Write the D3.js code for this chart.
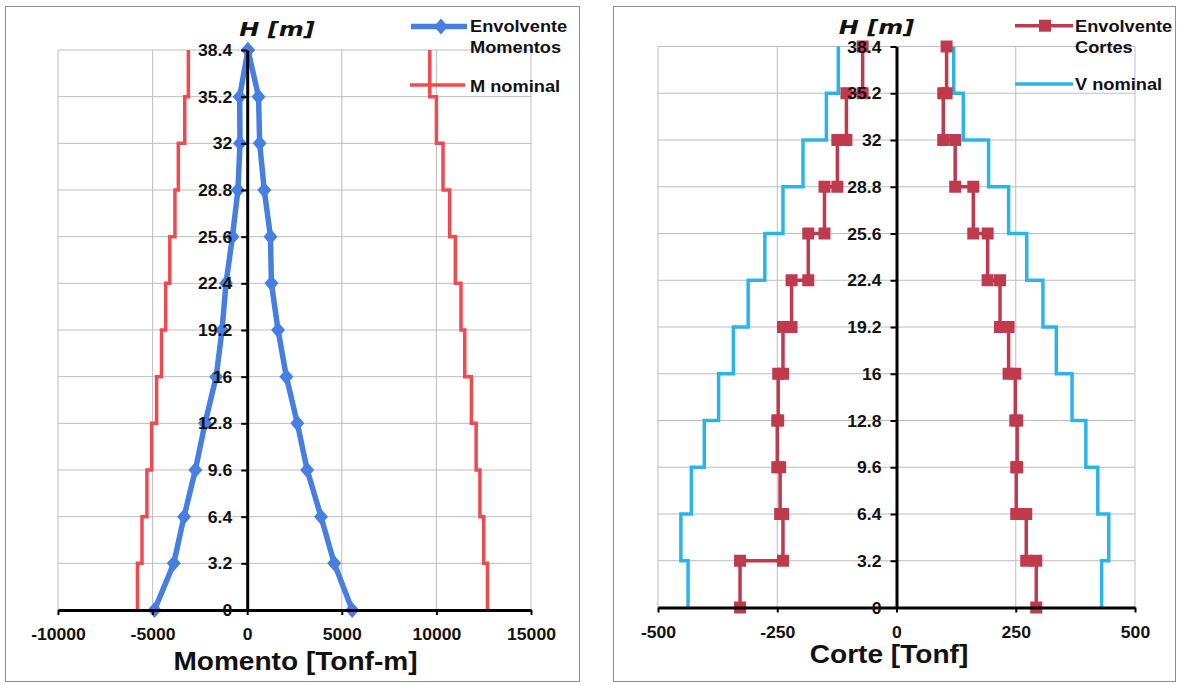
<!DOCTYPE html>
<html>
<head>
<meta charset="utf-8">
<script src="https://cdn.jsdelivr.net/npm/d3@7"></script>
<style>
  html, body { margin: 0; padding: 0; background: #fff; }
  svg { display: block; }
</style>
</head>
<body>
<svg id="chart" width="1179" height="685"></svg>
<script>
// Floor levels (m), ground to roof
const levels = [0, 3.2, 6.4, 9.6, 12.8, 16, 19.2, 22.4, 25.6, 28.8, 32, 35.2, 38.4];

// Moment envelope at each level (Tonf-m), ground to roof
const momentPos = [5550, 4600, 3900, 3170, 2650, 2070, 1630, 1280, 1230, 900, 660, 600, 40];
const momentNeg = [-4900, -3880, -3340, -2740, -2230, -1640, -1330, -1120, -780, -490, -380, -400, 40];

// Nominal moment capacity per storey (Tonf-m), lowest storey first
const mNominalPos = [12700, 12500, 12300, 12100, 11850, 11500, 11300, 11000, 10700, 10350, 10000, 9650];
const mNominalNeg = [-5800, -5560, -5300, -5050, -4790, -4530, -4310, -4090, -3820, -3640, -3300, -3110];

// Shear envelope per storey (Tonf), lowest storey first
const shearPos = [293, 272, 251, 253, 249, 235, 217, 191, 161, 123, 98, 105];
const shearNeg = [-328, -238, -244, -250, -248, -238, -220, -185, -151, -124, -105, -71];

// Nominal shear capacity per storey (Tonf), lowest storey first
const vNominalPos = [430, 445, 422, 397, 368, 335, 307, 273, 235, 193, 140, 120];
const vNominalNeg = [-437, -452, -430, -403, -373, -342, -311, -276, -238, -196, -147, -122];

// Axis ticks
const momentTicks = [-10000, -5000, 0, 5000, 10000, 15000];
const shearTicks = [-500, -250, 0, 250, 500];

const FONT = "'Liberation Sans', Arial, sans-serif";
const svg = d3.select("#chart");

const C_BLUE = "#477fe0";
const C_RED = "#ef4a4f";
const C_CYAN = "#2cb4e8";
const C_DARKRED = "#bf3a4c";
const C_GRID = "#bdbdbd";

// Bold text, slightly widened horizontally
function label(g, x, y, str, size, opts = {}) {
  return g.append("text")
    .attr("transform", `translate(${x},${y}) scale(${opts.sx || 1.12},1)`)
    .attr("text-anchor", opts.anchor || "start")
    .attr("font-family", opts.family || FONT)
    .attr("font-weight", "bold")
    .attr("font-style", opts.italic ? "oblique" : "normal")
    .attr("font-size", size)
    .attr("fill", "#111")
    .text(str);
}

// Storey values -> stepped polyline points (value, height)
function stepPoints(values) {
  const pts = [];
  values.forEach((v, i) => {
    pts.push([v, levels[i]]);
    pts.push([v, levels[i + 1]]);
  });
  return pts;
}

const diamond = "M0,-8L7,0L0,8L-7,0Z";
const square = d3.symbol().type(d3.symbolSquare).size(144)();

// Panel frames
svg.append("rect").attr("x", 5.5).attr("y", 6.5).attr("width", 574).attr("height", 675)
  .attr("fill", "#fff").attr("stroke", "#8c8c8c");
svg.append("rect").attr("x", 613.5).attr("y", 6.5).attr("width", 562).attr("height", 675)
  .attr("fill", "#fff").attr("stroke", "#8c8c8c");

function drawGrid(g, x, y, ticks) {
  g.append("g").selectAll("line").data(levels).join("line")
    .attr("x1", x.range()[0]).attr("x2", x.range()[1])
    .attr("y1", d => y(d)).attr("y2", d => y(d))
    .attr("stroke", C_GRID).attr("stroke-width", 1);
  g.append("g").selectAll("line").data(ticks.filter(t => t !== 0)).join("line")
    .attr("x1", d => x(d)).attr("x2", d => x(d))
    .attr("y1", y(0)).attr("y2", y(levels[levels.length - 1]))
    .attr("stroke", C_GRID).attr("stroke-width", 1);
}

function drawAxes(g, x, y, ticks) {
  const xa = g.append("g").attr("transform", `translate(0,${y(0)})`)
    .call(d3.axisBottom(x).tickValues(ticks).tickSize(5).tickSizeOuter(0).tickFormat(d => String(d)));
  const ya = g.append("g").attr("transform", `translate(${x(0)},0)`)
    .call(d3.axisLeft(y).tickValues(levels).tickSize(6).tickSizeOuter(0).tickFormat(d => String(d)));
  [xa, ya].forEach(a => {
    a.attr("font-family", FONT).attr("font-size", 16).attr("font-weight", "bold");
    a.select(".domain").attr("stroke", "#000").attr("stroke-width", 3);
    a.selectAll(".tick line").attr("stroke", "#000").attr("stroke-width", 2);
    a.selectAll(".tick text").attr("fill", "#111");
  });
  xa.selectAll(".tick text").attr("y", 0).attr("dy", null)
    .attr("transform", "translate(0,30) scale(1.1,1)");
  ya.selectAll(".tick text").attr("x", 0).attr("dy", "0.35em")
    .attr("transform", "translate(-15,0) scale(1.1,1)");
}

const line = (x, y) => d3.line().x(d => x(d[0])).y(d => y(d[1]));

// ---------- Moment chart ----------
{
  const g = svg.append("g");
  const x = d3.scaleLinear().domain([-10000, 15000]).range([58, 531]);
  const y = d3.scaleLinear().domain([0, 38.4]).range([610, 50]);
  drawGrid(g, x, y, momentTicks);

  // Nominal moment, both signs
  [mNominalNeg, mNominalPos].forEach(vals => {
    g.append("path").datum(stepPoints(vals)).attr("d", line(x, y))
      .attr("fill", "none").attr("stroke", C_RED).attr("stroke-width", 3.5);
  });

  // Moment envelope: up the negative side, down the positive side
  const env = levels.map((h, i) => [momentNeg[i], h])
    .concat(levels.map((h, i) => [momentPos[i], h]).reverse());
  g.append("path").datum(env).attr("d", line(x, y))
    .attr("fill", "none").attr("stroke", C_BLUE).attr("stroke-width", 5.5)
    .attr("stroke-linejoin", "round");
  g.append("g").selectAll("path").data(env).join("path")
    .attr("d", diamond)
    .attr("transform", d => `translate(${x(d[0])},${y(d[1])})`)
    .attr("fill", C_BLUE);

  drawAxes(g, x, y, momentTicks);

  label(g, 277, 35.5, "H [m]", 20, { family: "'DejaVu Sans', sans-serif", italic: true, anchor: "middle", sx: 1.2 });
  label(g, 295.5, 670, "Momento [Tonf-m]", 26, { anchor: "middle", sx: 1.08 });

  // Legend
  g.append("line").attr("x1", 411).attr("x2", 467).attr("y1", 26.5).attr("y2", 26.5)
    .attr("stroke", C_BLUE).attr("stroke-width", 5.5);
  g.append("path").attr("d", diamond).attr("transform", "translate(441,26.5)").attr("fill", C_BLUE);
  label(g, 470, 32, "Envolvente", 16, { sx: 1.14 });
  label(g, 470, 53, "Momentos", 16, { sx: 1.14 });
  g.append("line").attr("x1", 410).attr("x2", 465).attr("y1", 85).attr("y2", 85)
    .attr("stroke", C_RED).attr("stroke-width", 3.5);
  label(g, 470, 92, "M nominal", 16, { sx: 1.14 });
}

// ---------- Shear chart ----------
{
  const g = svg.append("g");
  const x = d3.scaleLinear().domain([-500, 500]).range([658, 1135]);
  const y = d3.scaleLinear().domain([0, 38.4]).range([607.5, 46.5]);
  drawGrid(g, x, y, shearTicks);

  // Nominal shear, both signs
  [vNominalNeg, vNominalPos].forEach(vals => {
    g.append("path").datum(stepPoints(vals)).attr("d", line(x, y))
      .attr("fill", "none").attr("stroke", C_CYAN).attr("stroke-width", 3.5);
  });

  // Shear envelope, both signs
  [shearNeg, shearPos].forEach(vals => {
    const pts = stepPoints(vals);
    g.append("path").datum(pts).attr("d", line(x, y))
      .attr("fill", "none").attr("stroke", C_DARKRED).attr("stroke-width", 3.5);
    g.append("g").selectAll("path").data(pts).join("path")
      .attr("d", square)
      .attr("transform", d => `translate(${x(d[0])},${y(d[1])})`)
      .attr("fill", C_DARKRED);
  });

  drawAxes(g, x, y, shearTicks);

  label(g, 876.5, 33.5, "H [m]", 20, { family: "'DejaVu Sans', sans-serif", italic: true, anchor: "middle", sx: 1.2 });
  label(g, 889, 663, "Corte [Tonf]", 26, { anchor: "middle", sx: 1.08 });

  // Legend
  g.append("line").attr("x1", 1015).attr("x2", 1073).attr("y1", 25.7).attr("y2", 25.7)
    .attr("stroke", C_DARKRED).attr("stroke-width", 3.5);
  g.append("path").attr("d", square).attr("transform", "translate(1045,25.7)").attr("fill", C_DARKRED);
  label(g, 1075, 31.5, "Envolvente", 16, { sx: 1.14 });
  label(g, 1075, 52.5, "Cortes", 16, { sx: 1.14 });
  g.append("line").attr("x1", 1015).attr("x2", 1073).attr("y1", 84).attr("y2", 84)
    .attr("stroke", C_CYAN).attr("stroke-width", 3.5);
  label(g, 1075, 90, "V nominal", 16, { sx: 1.14 });
}
</script>
</body>
</html>
